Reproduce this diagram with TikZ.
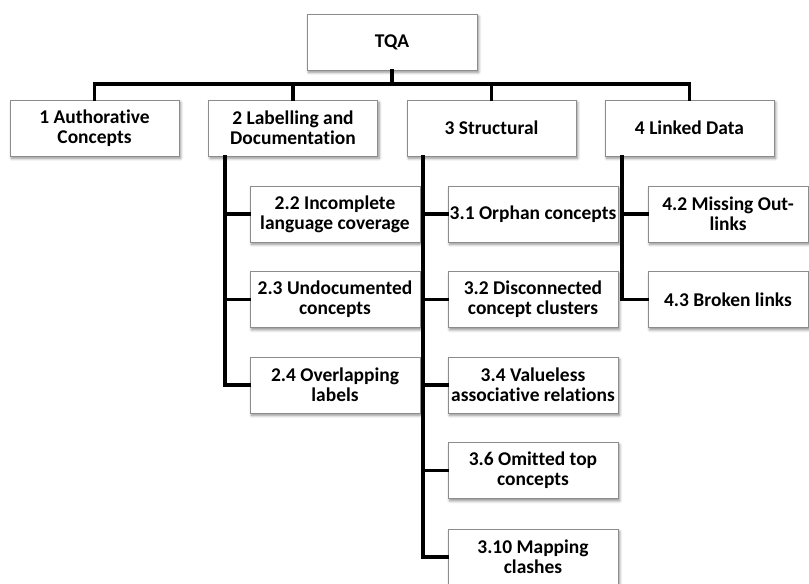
\documentclass[tikz,border=0pt]{standalone}
\usepackage{fontspec}
\setmainfont{Carlito}[Ligatures=NoCommon]
\usetikzlibrary{shadows.blur,calc}
\tikzset{
  box/.style={draw=black!45, line width=0.6pt, fill=white, minimum width=169*0.75pt,
    minimum height=56*0.75pt, inner sep=0pt, align=center,
    font=\fontsize{14.6}{15.2}\selectfont\bfseries,
    blur shadow={shadow xshift=1.2pt, shadow yshift=-1.8pt, shadow blur steps=6, shadow opacity=45, shadow blur radius=2pt}},
  conn/.style={draw=black, line width=2.8pt, line cap=rect, line join=miter}
}
\begin{document}
\begin{tikzpicture}[x=0.75pt,y=-0.75pt]
\useasboundingbox (0,0) rectangle (809,583);
% top
\node[box, minimum width=170*0.75pt] (tqa) at (392,42) {TQA};
\node[box] (c1) at (94.5,128) {1 Authorative\\Concepts};
\node[box] (c2) at (293,128) {2 Labelling and\\Documentation};
\node[box] (c3) at (491.5,128) {3 Structural};
\node[box] (c4) at (689.5,128) {4 Linked Data};
% level 2
\node[box, minimum width=170*0.75pt] (c22) at (335,214) {2.2 Incomplete\\language coverage};
\node[box, minimum width=170*0.75pt] (c23) at (335,299.5) {2.3 Undocumented\\concepts};
\node[box, minimum width=170*0.75pt] (c24) at (335,385) {2.4 Overlapping\\labels};
\node[box, minimum width=170*0.75pt] (c31) at (533,214) {3.1 Orphan concepts};
\node[box, minimum width=170*0.75pt] (c32) at (533,299.5) {3.2 Disconnected\\concept clusters};
\node[box, minimum width=170*0.75pt] (c34) at (533,385) {3.4 Valueless\\associative relations};
\node[box, minimum width=170*0.75pt] (c36) at (533,470.5) {3.6 Omitted top\\concepts};
\node[box, minimum width=170*0.75pt] (c310) at (533,557) {3.10 Mapping\\clashes};
\node[box, minimum width=160*0.75pt] (c42) at (728,214) {4.2 Missing Out-\\links};
\node[box, minimum width=160*0.75pt] (c43) at (728,299.5) {4.3 Broken links};
% connectors
\coordinate (bus) at (392,84);
\coordinate (v2) at (225,0);
\coordinate (v3) at (423,0);
\coordinate (v4) at (622,0);
\draw[conn] (tqa.south) -- (bus);
\draw[conn] (c1.north) -- (c1.north |- bus) -- (c4.north |- bus) -- (c4.north);
\draw[conn] (c2.north) -- (c2.north |- bus);
\draw[conn] (c3.north) -- (c3.north |- bus);
\draw[conn] (c2.south -| v2) -- (v2 |- c24.west) -- (c24.west);
\draw[conn] (v2 |- c22.west) -- (c22.west);
\draw[conn] (v2 |- c23.west) -- (c23.west);
\draw[conn] (c3.south -| v3) -- (v3 |- c310.west) -- (c310.west);
\draw[conn] (v3 |- c31.west) -- (c31.west);
\draw[conn] (v3 |- c32.west) -- (c32.west);
\draw[conn] (v3 |- c34.west) -- (c34.west);
\draw[conn] (v3 |- c36.west) -- (c36.west);
\draw[conn] (c4.south -| v4) -- (v4 |- c43.west) -- (c43.west);
\draw[conn] (v4 |- c42.west) -- (c42.west);
\end{tikzpicture}
\end{document}
